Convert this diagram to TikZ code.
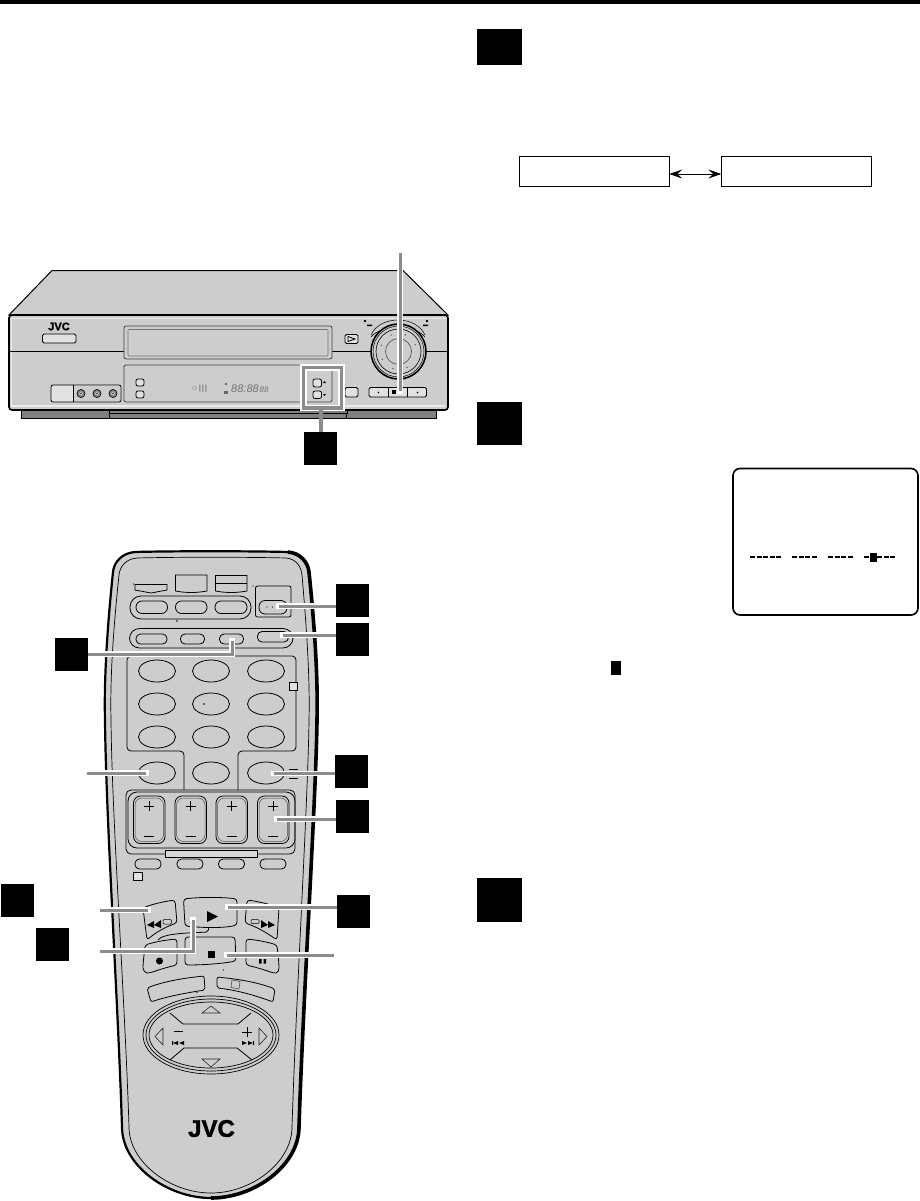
\documentclass[tikz,border=0pt]{standalone}
\usepackage{fontspec}
\setmainfont{Liberation Sans}
\newfontfamily\heavyfont[FakeBold=1.6]{Liberation Sans Bold}
\usetikzlibrary{arrows.meta}
\definecolor{bodygray}{HTML}{CDCDCD}
\definecolor{leadgray}{HTML}{8C8C8C}
\definecolor{darkgray2}{HTML}{808080}
\tikzset{
  ink/.style={draw=black,line width=0.8pt},
  thin ink/.style={draw=black!85,line width=0.6pt},
  badge/.style={fill=black,draw=none,minimum width=33pt,minimum height=33pt,inner sep=0pt,outer sep=0pt,anchor=north west},
  bigbadge/.style={fill=black,draw=none,minimum width=45pt,minimum height=36pt,inner sep=0pt,outer sep=0pt,anchor=north west},
  leader/.style={draw=leadgray,line width=3pt,preaction={draw=white,line width=5.2pt,line cap=rect}},
  pill/.style={ink,rounded corners=4.5pt},
  lightbtn/.style={ink,fill=bodygray!60!white},
  modebox/.style={draw=black,line width=1pt,minimum width=150pt,minimum height=30pt,inner sep=0pt,outer sep=0pt,anchor=north west},
}
\newcommand{\ovalbtn}[2]{\draw[ink] (#1,#2) ellipse [x radius=18.5pt,y radius=11pt];}
\begin{document}
\begin{tikzpicture}[x=1pt,y=-1pt]
\useasboundingbox (0,0) rectangle (920,1201);
% page rule
\fill[black] (0,0) rectangle (920,4);

% ---------- VCR ----------
\fill[darkgray2,draw=black,line width=.8pt] (21,409) -- (21,418.5) -- (436,418.5) -- (436,409) -- cycle;
\draw[black,line width=.7pt] (109,411) -- (109,413.5) -- (347,413.5) -- (347,411);
\draw[black,line width=.7pt] (109,413.5) -- (110,418.5) (347,413.5) -- (346,418.5);
\draw[fill=bodygray,draw=black,line width=1pt] (9,315) -- (52,270.5) -- (403,270.5) -- (448,315) -- cycle;
\draw[fill=bodygray,draw=black,line width=1.6pt,rounded corners=3pt] (9,315) -- (448,315) -- (448,410) -- (9,410) -- cycle;
\draw[white!60!bodygray,line width=1pt] (11,318) -- (446,318);
\draw[white!60!bodygray,line width=1.2pt] (11.5,318) -- (11.5,406) -- (445,406);
\draw[black,line width=.8pt] (9,351.5) -- (448,351.5);
\node[font=\heavyfont\fontsize{11}{11}\selectfont,inner sep=0pt] (vcrlogo) at (59,326.5) {JVC};
\draw[lightbtn,rounded corners=1.5pt] (42.5,334) rectangle (76,343);
\draw[fill=bodygray,draw=black!75,line width=.8pt,rounded corners=2pt] (124,326) rectangle (332,359);
\draw[draw=black!55,line width=.6pt,rounded corners=1pt] (128,329.5) rectangle (328,356);
\draw[lightbtn,rounded corners=1.5pt] (345,334.5) rectangle (358,343.5);
\draw[ink] (348,336.5) -- (355,339) -- (348,341.5) -- cycle;
% dial
\draw[black,line width=.6pt] (371,337) .. controls (380,325) and (416,325) .. (425,337);
\draw[black,line width=.5pt] (371,335) .. controls (380,315) and (416,315) .. (425,335);
\fill[black] (365,321) circle (1.4pt) (427,321) circle (1.4pt);
\fill[black] (367,324.5) rectangle (372,326) (423,324.5) rectangle (428,326);
\draw[black,line width=1.6pt,fill=bodygray] (398.5,351.5) circle (27.5pt);
\draw[black,line width=.5pt] (398.5,351.5) circle (25.5pt);
\draw[black,line width=.6pt] (398.5,351.5) circle (22.5pt);
\draw[black!70,line width=.6pt,fill=bodygray] (398.5,351.5) circle (13pt);
\foreach \a in {22,68,...,340}{\fill[black!70] (398.5,351.5) ++(\a:18pt) circle (.7pt);}
% display panel
\draw[fill=bodygray,draw=black!75,line width=.8pt,rounded corners=1.5pt] (124,365) rectangle (332,402);
\draw[lightbtn,rounded corners=2pt] (136,379) rectangle (144,386);
\draw[lightbtn,rounded corners=2pt] (136,391) rectangle (144,398);
\draw[black!40,line width=.5pt] (194.5,388) circle (2pt);
\fill[black!40] (199,384.5) rectangle (200.5,391.5) (202,384.5) rectangle (203.5,391.5) (205,384.5) rectangle (206.5,391.5);
\node[font=\itshape\fontsize{11}{11}\selectfont,text=black!55,inner sep=0pt] (timer) at (245,389) {88:88};
\node[font=\itshape\fontsize{8}{8}\selectfont,text=black!55,inner sep=0pt] (timersec) at (264,390) {88};
\fill[black!60] (226,384) circle (1.4pt);
\fill[black!60] (224,391) rectangle (228,394);
% jack panel
\draw[lightbtn,rounded corners=2pt] (51,385) rectangle (121,402);
\fill[bodygray] (74,386) rectangle (120,401);
\draw[black,line width=.7pt] (73.5,385) -- (73.5,402);
\foreach \x in {81,97,113}{
  \draw[black,line width=.7pt,fill=black!45] (\x,393.5) circle (4pt);
  \fill[white!80!black] (\x,393.5) circle (1.8pt);
  \fill[black!80] (\x,393.5) circle (.8pt);
}
% right buttons
\draw[lightbtn,rounded corners=1.5pt] (345,387.5) rectangle (358,397);
\draw[lightbtn,rounded corners=1.5pt] (369,387.5) rectangle (426.5,397);
\draw[black,line width=.7pt] (388,387.5) -- (388,397) (407.5,387.5) -- (407.5,397);
\fill[black] (378.5,392.5) circle (.8pt) (417.5,392.5) circle (.8pt);
\fill[black] (391.5,390) rectangle (395.5,394);
% highlighted buttons
\draw[white,line width=6.5pt] (303.5,367.5) rectangle (341.5,408);
\draw[leadgray,line width=3.2pt] (303.5,367.5) rectangle (341.5,408);
\draw[lightbtn,rounded corners=2pt] (313,379) rectangle (321.5,387);
\draw[lightbtn,rounded corners=2pt] (313,391) rectangle (321.5,398.5);
\fill[black] (323,383) -- (324.5,381) -- (326,383) -- cycle;
\fill[black] (323,394) -- (324.5,396) -- (326,394) -- cycle;
\node[badge] (bvcr) at (304,432) {};
\coordinate (hlbottom) at (321,410);
\draw[leadgray,line width=4pt] (hlbottom) -- (bvcr.north -| hlbottom);
\coordinate (tl) at (400,253);
\coordinate (tlend) at (400,391);
\draw[leader] (tl) -- (tlend);

% ---------- Remote ----------
\path[fill=bodygray,draw=black,line width=2.2pt]
  (135,552) .. controls (170,551) and (250,551) .. (288,552)
  .. controls (300,553) and (308,562) .. (309,572)
  .. controls (315,630) and (318,680) .. (317,720)
  .. controls (316,800) and (303,1000) .. (299,1127)
  .. controls (299,1165) and (255,1198) .. (211,1198)
  .. controls (167,1198) and (122,1165) .. (122,1127)
  .. controls (118,1000) and (106,820) .. (105,720)
  .. controls (104,680) and (107,630) .. (113,572)
  .. controls (114,562) and (122,553) .. (135,552) -- cycle;
\draw[black,line width=3.6pt]
  (288,552) .. controls (300,553) and (308,562) .. (309,572)
  .. controls (315,630) and (318,680) .. (317,720)
  .. controls (316,800) and (303,1000) .. (299,1127)
  .. controls (299,1165) and (255,1198) .. (211,1198);
\draw[black,line width=.7pt]
  (137,558) .. controls (170,557) and (250,557) .. (286,558)
  .. controls (296,559) and (301,566) .. (302,575)
  .. controls (307,632) and (310,680) .. (309,720)
  .. controls (308,800) and (296,1000) .. (292,1127)
  .. controls (292,1162) and (252,1193) .. (211,1193)
  .. controls (170,1193) and (129,1162) .. (129,1127)
  .. controls (125,1000) and (112,820) .. (111,720)
  .. controls (110,680) and (113,632) .. (119,575)
  .. controls (120,566) and (126,559) .. (137,558) -- cycle;
% top keys
\draw[ink] (135,584.5) -- (167,584.5) -- (167,590) -- (151,593) -- (135,590) -- cycle;
\draw[ink] (175.5,575) -- (207,575) -- (207,591) .. controls (196,593) and (186,593) .. (175.5,591) -- cycle;
\draw[ink] (215.5,575.5) -- (247,575.5) -- (247,591) .. controls (236,593) and (226,593) .. (215.5,591) -- cycle;
\draw[ink] (215.5,583.5) -- (247,583.5);
\draw[ink,rounded corners=11pt] (130,596) rectangle (251,619);
\draw[pill,rounded corners=6pt] (136,601) rectangle (167.5,613.5);
\draw[pill,rounded corners=6pt] (175.5,601) rectangle (207,613.5);
\draw[pill,rounded corners=6pt] (215,601) rectangle (247,613.5);
\draw[ink,rounded corners=2pt] (255.5,586) rectangle (291,617);
\draw[ink,rounded corners=6pt] (259,600.5) rectangle (287,614);
\fill[black] (267,607) circle (.7pt) (272.5,607) circle (.7pt) (278,607) circle (.7pt);
\fill[black] (177,621) circle (.8pt) (253,586) circle (.7pt) (133.5,584) circle (.7pt);
% second row
\draw[ink,rounded corners=10pt] (129.5,628.5) rectangle (293,648);
\draw[pill] (136,634) rectangle (167,644);
\draw[pill] (180.5,634) rectangle (204.5,644);
\draw[pill] (219.5,634) rectangle (243.5,644);
\draw[pill] (257.5,631.5) rectangle (288.5,642);
% number panel
\draw[ink,rounded corners=4pt] (184,790) -- (184,751) -- (127,751) -- (127,656) -- (296,656) -- (296,751) -- (238,751) -- (238,790);
\foreach \y in {671,704,737,773}{\foreach \x in {157,211,266}{\ovalbtn{\x}{\y}}}
\fill[black] (204,704) circle (.8pt);
\draw[ink,fill=bodygray!60!white] (289.5,682.5) rectangle (297.5,690);
\draw[ink] (289,769) -- (298,769) (289,778) -- (298,778);
% volume block
\draw[ink,rounded corners=5pt] (126,790) rectangle (295,854);
\draw[ink,rounded corners=9pt] (128,792) rectangle (295,848);
\foreach \x in {133.5,175,216,257.5}{
  \draw[ink,rounded corners=7pt] (\x,796) rectangle ++(31.5,47.5);
  \draw[black!70,line width=.5pt,rounded corners=7pt] (\x+1.5,798) rectangle ++(28.5,43.5);
  \draw[black,line width=.9pt] (\x+10.5,806) -- ++(10,0) (\x+15.5,801) -- ++(0,10);
  \draw[black,line width=.9pt] (\x+10.5,836) -- ++(10,0);
}
\draw[ink,fill=bodygray!80!white] (165.5,850.5) rectangle (257.5,857);
\foreach \x in {135,177,218.5,260}{\draw[pill] (\x,859) rectangle ++(26,10);}
\draw[ink,fill=bodygray!60!white] (133.5,872.5) rectangle (142.5,880);
% transport
\draw[ink,rounded corners=3pt] (143,908) .. controls (153,904) and (164,901.5) .. (175,900) -- (177,923) .. controls (165,927) and (155,933) .. (147,940) -- cycle;
\draw[ink,rounded corners=3pt] (279,908) .. controls (269,904) and (258,901.5) .. (247,900) -- (245,923) .. controls (257,927) and (267,933) .. (277,940) -- cycle;
\draw[ink,rounded corners=3pt] (183.5,899) .. controls (200,897) and (222,897) .. (237,899) -- (237,925) .. controls (225,928) and (205,928) .. (185,926) -- cycle;
\draw[ink,rounded corners=2pt] (158,940) .. controls (163,933) and (190,933) .. (208,932) -- (209,927);
\draw[ink,rounded corners=3pt] (185,937) -- (235,937) -- (236,961) .. controls (220,964) and (200,965) .. (185,965) -- cycle;
\draw[ink,rounded corners=3pt] (145,945) .. controls (155,942) and (165,940) .. (177,939) -- (177,965) .. controls (168,967) and (158,970) .. (150,973) .. controls (145,973) and (143,970) .. (143,965) -- cycle;
\draw[ink,rounded corners=3pt] (277,945) .. controls (267,942) and (257,940) .. (246,939) -- (246,965) .. controls (255,967) and (265,970) .. (273,973) .. controls (278,973) and (279,970) .. (279,965) -- cycle;
% transport symbols
\fill[black] (207,911) -- (218,916.5) -- (207,922) -- cycle;
\fill[black] (208,951) rectangle (215,958);
\fill[black] (159.5,961) circle (3.5pt);
\fill[black] (259,959) rectangle (261.5,963.5) (263.5,959) rectangle (266,963.5);
\fill[black] (147,925) -- (154,921) -- (154,928) -- cycle;
\fill[black] (154,925) -- (161,920) -- (161,928) -- cycle;
\fill[black] (275,925) -- (268,921) -- (268,928) -- cycle;
\fill[black] (268,925) -- (261,920) -- (261,928) -- cycle;
\draw[black,line width=.5pt,rounded corners=1pt] (163,919.5) rectangle (171.5,924);
\draw[black,line width=.5pt,rounded corners=1pt] (251,919.5) rectangle (259,923.5);
% long keys
\draw[ink,rounded corners=2pt] (147,988) .. controls (165,981) and (185,978) .. (204,976) -- (205,990) .. controls (185,993) and (165,997) .. (151,1002) -- cycle;
\draw[ink,rounded corners=2pt] (275,989) .. controls (257,982) and (237,979) .. (217,977) -- (217,988) .. controls (237,990) and (257,996) .. (273,1002) -- cycle;
\draw[black!70,line width=.6pt] (232,980) -- (240,981.5) -- (239,989) -- (231,987.5) -- cycle;
\fill[black] (197,992.5) circle (.7pt) (223.5,970) circle (.7pt);
% joystick
\foreach \rx/\ry in {68/39,65/36,62/33}{\draw[black,line width=.7pt] (211,1035) ellipse [x radius=\rx pt,y radius=\ry pt];}
\draw[ink] (170,1013) -- (183,1024) -- (238,1024) -- (251,1013);
\draw[ink] (170,1060) -- (184,1048) -- (237,1048) -- (252,1060);
\draw[thin ink] (202,1013) -- (211,1006) -- (220,1013) -- cycle;
\draw[thin ink] (202,1059) -- (211,1067) -- (220,1059) -- cycle;
\draw[thin ink] (163,1028) -- (155,1036.5) -- (163,1045) -- cycle;
\draw[thin ink] (259,1028) -- (267,1036.5) -- (259,1045) -- cycle;
\draw[black,line width=.9pt] (173.5,1031) -- (183,1031);
\draw[black,line width=.9pt] (242,1032) -- (252,1032) (247,1027) -- (247,1037);
\fill[black] (172,1041) rectangle (173,1045) (178,1041) -- (173,1043) -- (178,1045) -- cycle (184,1041) -- (179,1043) -- (184,1045) -- cycle;
\fill[black] (253,1041) rectangle (254,1045) (248,1041) -- (253,1043) -- (248,1045) -- cycle (242,1041) -- (247,1043) -- (242,1045) -- cycle;
\node[font=\heavyfont\fontsize{24}{24}\selectfont,inner sep=0pt] (rclogo) at (211.5,1128.5) {JVC};

% badges and leaders on the remote
\node[badge] (b1) at (336,584) {};
\node[badge] (b2) at (336,623) {};
\node[badge] (b3) at (55,638) {};
\node[badge] (b4) at (335,755) {};
\node[badge] (b5) at (336,800) {};
\node[badge] (b6) at (1,884) {};
\node[badge] (b7) at (36,928) {};
\node[badge] (b8) at (337,895) {};
\coordinate (k1) at (279,606);
\coordinate (k2) at (283,635);
\coordinate (k3) at (232,640.5);
\coordinate (k3c) at (232,654);
\coordinate (k4a) at (87,773);
\coordinate (k4b) at (146,773);
\coordinate (k5) at (274,773.5);
\coordinate (k6) at (277,819);
\coordinate (k7a) at (99.5,910);
\coordinate (k7b) at (148,910);
\coordinate (k8a) at (99.5,951);
\coordinate (k8b) at (193,951);
\coordinate (k8c) at (193,920);
\coordinate (k9) at (228,907);
\coordinate (k10a) at (227,955);
\coordinate (k10b) at (334,955);
\draw[leader] (k1) -- (k1 -| b1.west);
\draw[leader] (k2) -- (k2 -| b2.west);
\draw[leader] (k3c -| b3.east) -- (k3c) -- (k3);
\draw[leader] (k4a) -- (k4b);
\draw[leader] (k5) -- (k5 -| b4.west);
\draw[leader] (k6) -- (k6 -| b5.west);
\draw[leader] (k7a) -- (k7b);
\draw[leader] (k8a) -- (k8b) -- (k8c);
\draw[leader] (k9) -- (k9 -| b8.west);
\draw[leader] (k10a) -- (k10b);
\fill[black] (b1.north west) rectangle (b1.south east);
\fill[black] (b2.north west) rectangle (b2.south east);
\fill[black] (b3.north west) rectangle (b3.south east);
\fill[black] (b4.north west) rectangle (b4.south east);
\fill[black] (b5.north west) rectangle (b5.south east);
\fill[black] (b8.north west) rectangle (b8.south east);

% ---------- Right column ----------
\node[bigbadge] (s1) at (477,29) {};
\node[bigbadge,minimum height=43pt] (s2) at (477,402) {};
\node[bigbadge,minimum height=44pt] (s3) at (477,878) {};
\node[modebox] (m1) at (519.3,156.3) {};
\node[modebox] (m2) at (721.3,156.3) {};
\draw[{Stealth[length=13pt,width=9pt,inset=5pt]}-{Stealth[length=13pt,width=9pt,inset=5pt]},line width=.8pt] (m1.east |- 0,174) -- (m2.west |- 0,174);
\node[draw=black,line width=1.6pt,rounded corners=7pt,minimum width=185pt,minimum height=146.5pt,inner sep=0pt,outer sep=0pt,anchor=north west] (osd) at (733,468.5) {};
\foreach \s/\n in {750/5,792/4,828/4,864/2,877/3}{
  \foreach \i in {1,...,\n}{\fill[black] (\s+\i*6.6-6.6,556.3) rectangle ++(5,1.7);}
}
\fill[black] (870,553) rectangle (876.5,562);
\fill[black] (611,661) rectangle (621,675);
\end{tikzpicture}
\end{document}
